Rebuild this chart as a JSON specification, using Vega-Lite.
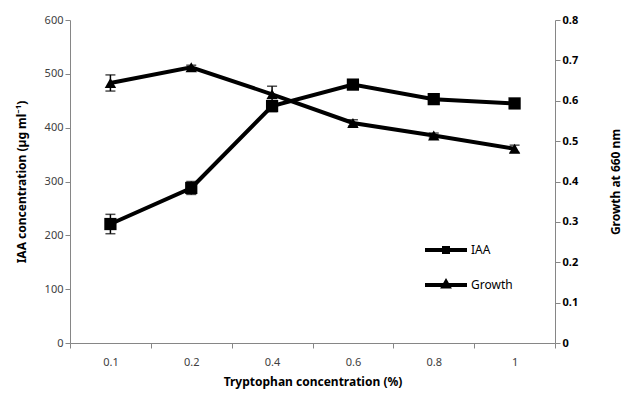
{
  "$schema": "https://vega.github.io/schema/vega-lite/v6.json",
  "width": 485,
  "height": 323,
  "autosize": "none",
  "padding": {"left": 70, "top": 20, "right": 79, "bottom": 54},
  "background": "white",
  "config": {
    "view": {"stroke": null},
    "axis": {
      "grid": false,
      "domainColor": "#868686",
      "tickColor": "#868686",
      "domainWidth": 1,
      "tickWidth": 1,
      "tickSize": 5,
      "labelFont": "Noto Sans",
      "labelFontSize": 11,
      "labelColor": "#404040",
      "titleFont": "Noto Sans",
      "titleFontSize": 12,
      "titleFontWeight": "bold",
      "titleColor": "black"
    },
    "legend": {"labelFont": "Noto Sans"}
  },
  "data": {
    "values": [
      {"trp": "0.1", "iaa": 221, "iaa_lo": 203, "iaa_hi": 239, "g": 0.644, "g_lo": 0.624, "g_hi": 0.664},
      {"trp": "0.2", "iaa": 288, "iaa_lo": 276, "iaa_hi": 300, "g": 0.683, "g_lo": 0.678, "g_hi": 0.688},
      {"trp": "0.4", "iaa": 440, "iaa_lo": 430, "iaa_hi": 450, "g": 0.616, "g_lo": 0.598, "g_hi": 0.636},
      {"trp": "0.6", "iaa": 480, "iaa_lo": 473, "iaa_hi": 487, "g": 0.545, "g_lo": 0.537, "g_hi": 0.553},
      {"trp": "0.8", "iaa": 453, "iaa_lo": 446, "iaa_hi": 460, "g": 0.514, "g_lo": 0.508, "g_hi": 0.52},
      {"trp": "1", "iaa": 445, "iaa_lo": 439, "iaa_hi": 451, "g": 0.481, "g_lo": 0.472, "g_hi": 0.49}
    ]
  },
  "encoding": {
    "x": {
      "field": "trp",
      "type": "ordinal",
      "sort": null,
      "bandPosition": 0.5,
      "scale": {"type": "band", "paddingInner": 0, "paddingOuter": 0},
      "axis": {
        "title": "Tryptophan concentration (%)",
        "labelAngle": 0,
        "tickBand": "extent",
        "labelPadding": 8,
        "titlePadding": 9
      }
    }
  },
  "layer": [
    {
      "layer": [
        {
          "mark": {"type": "errorbar", "color": "black", "ticks": {"size": 10, "thickness": 1.5}, "rule": {"strokeWidth": 1.5}},
          "encoding": {
            "y": {"field": "iaa_lo", "type": "quantitative", "scale": {"domain": [0, 600]},
              "axis": {"title": "IAA concentration (µg ml⁻¹)", "values": [0, 100, 200, 300, 400, 500, 600], "titlePadding": 16}},
            "y2": {"field": "iaa_hi"}
          }
        },
        {
          "mark": {"type": "line", "strokeWidth": 4, "color": "black"},
          "encoding": {
            "y": {"field": "iaa", "type": "quantitative", "scale": {"domain": [0, 600]},
              "axis": {"title": "IAA concentration (µg ml⁻¹)", "values": [0, 100, 200, 300, 400, 500, 600], "titlePadding": 16}},
            "color": {
              "datum": "IAA",
              "type": "nominal",
              "scale": {"domain": ["IAA", "Growth"], "range": ["black", "black"]},
              "legend": {
                "title": null,
                "orient": "none",
                "legendX": 364,
                "legendY": 218,
                "padding": 0,
                "symbolSize": 400,
                "symbolStrokeWidth": 4,
                "rowPadding": 13,
                "labelOffset": 13,
                "labelFontSize": 12,
                "labelColor": "black",
                "encode": {
                  "symbols": {
                    "update": {
                      "shape": {"signal": "datum.value === 'IAA' ? 'M-2.1,0H2.1M-0.2,-0.2H0.2V0.2H-0.2Z' : 'M-2.1,0H2.1M0,-0.3L0.25,0.15H-0.25Z'"},
                      "fill": {"value": "black"},
                      "stroke": {"value": "black"}
                    }
                  }
                }
              }
            }
          }
        },
        {
          "mark": {"type": "point", "shape": "square", "filled": true, "size": 150, "color": "black", "opacity": 1},
          "encoding": {
            "y": {"field": "iaa", "type": "quantitative", "scale": {"domain": [0, 600]},
              "axis": {"title": "IAA concentration (µg ml⁻¹)", "values": [0, 100, 200, 300, 400, 500, 600], "titlePadding": 16}}
          }
        }
      ]
    },
    {
      "layer": [
        {
          "mark": {"type": "errorbar", "color": "black", "ticks": {"size": 10, "thickness": 1.5}, "rule": {"strokeWidth": 1.5}},
          "encoding": {
            "y": {"field": "g_lo", "type": "quantitative", "scale": {"domain": [0, 0.8]},
              "axis": {"orient": "right", "title": "Growth at 660 nm", "titleAngle": 270, "values": [0, 0.1, 0.2, 0.3, 0.4, 0.5, 0.6, 0.7, 0.8], "format": ".1~f", "labelFontWeight": "bold", "labelColor": "black", "titlePadding": 45}},
            "y2": {"field": "g_hi"}
          }
        },
        {
          "mark": {"type": "line", "strokeWidth": 4, "color": "black"},
          "encoding": {
            "y": {"field": "g", "type": "quantitative", "scale": {"domain": [0, 0.8]},
              "axis": {"orient": "right", "title": "Growth at 660 nm", "titleAngle": 270, "values": [0, 0.1, 0.2, 0.3, 0.4, 0.5, 0.6, 0.7, 0.8], "format": ".1~f", "labelFontWeight": "bold", "labelColor": "black", "titlePadding": 45}},
            "color": {"datum": "Growth", "type": "nominal"}
          }
        },
        {
          "mark": {"type": "point", "shape": "triangle-up", "filled": true, "size": 130, "color": "black", "opacity": 1},
          "encoding": {
            "y": {"field": "g", "type": "quantitative", "scale": {"domain": [0, 0.8]},
              "axis": {"orient": "right", "title": "Growth at 660 nm", "titleAngle": 270, "values": [0, 0.1, 0.2, 0.3, 0.4, 0.5, 0.6, 0.7, 0.8], "format": ".1~f", "labelFontWeight": "bold", "labelColor": "black", "titlePadding": 45}}
          }
        }
      ]
    }
  ],
  "resolve": {"scale": {"y": "independent"}}
}
